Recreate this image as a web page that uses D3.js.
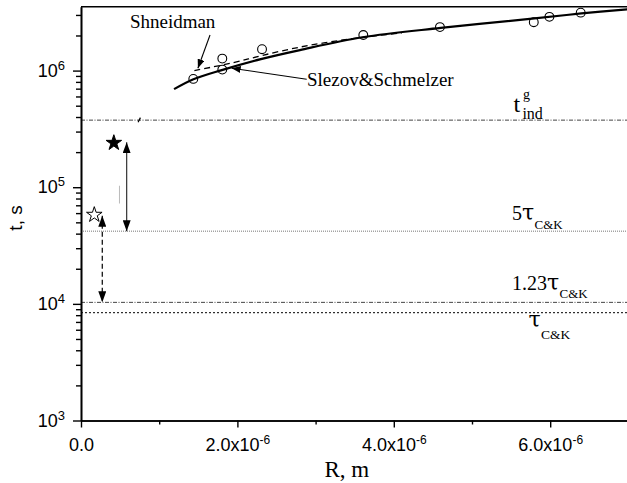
<!DOCTYPE html>
<html>
<head>
<meta charset="utf-8">
<script src="https://cdn.jsdelivr.net/npm/d3@7"></script>
<style>
  body { margin: 0; background: #fff; }
  svg { display: block; }
</style>
</head>
<body>
<svg id="chart"></svg>
<script>
// chart values
var circleR = [1.436e-6, 1.807e-6, 1.807e-6, 2.315e-6, 3.61e-6, 4.59e-6, 5.79e-6, 5.99e-6, 6.39e-6];
var circleT = [8.49e5, 1.267e6, 1.02e6, 1.525e6, 2.02e6, 2.36e6, 2.60e6, 2.89e6, 3.14e6];

var slezovR = [1.19e-6, 1.43e-6, 1.80e-6, 2.30e-6, 2.80e-6, 3.60e-6, 4.60e-6, 5.80e-6, 6.40e-6, 7.00e-6];
var slezovT = [6.93e5, 8.39e5, 1.01e6, 1.255e6, 1.50e6, 1.93e6, 2.32e6, 2.80e6, 3.09e6, 3.36e6];

var shneidR = [1.45e-6, 1.95e-6, 2.32e-6, 2.80e-6, 3.30e-6, 3.80e-6, 4.10e-6];
var shneidT = [1.0e6, 1.17e6, 1.35e6, 1.59e6, 1.81e6, 2.0e6, 2.1e6];

var levelNames = ["tind", "5tau", "123tau", "tau"];
var levelT = [3.76e5, 4.2e4, 1.03e4, 8.4e3];

var starR = [0.42e-6, 0.17e-6];
var starT = [2.4e5, 5.8e4];

var bigArrowR = 0.584e-6, bigArrowT = [2.43e5, 4.2e4];
var smallArrowR = 0.272e-6, smallArrowT = [5.7e4, 1.03e4];

var xTicks = [0, 2e-6, 4e-6, 6e-6];
var xMinor = [1e-6, 3e-6, 5e-6, 7e-6];
var yTicks = [1e3, 1e4, 1e5, 1e6];

var width = 627, height = 483;
var plotLeft = 81, plotTop = 6.7, plotBottom = 420.5;

var svg = d3.select("#chart").attr("width", width).attr("height", height);

var x = d3.scaleLinear().domain([0, 7e-6]).range([plotLeft, plotLeft + 7 * 78.2]);
var y = d3.scaleLog().domain([1e3, 3.53e6]).range([plotBottom, plotTop]);

var serif = "'Liberation Serif', 'Times New Roman', serif";
var sans = "'Liberation Sans', Arial, sans-serif";

// arrow heads
var defs = svg.append("defs");
defs.append("marker")
  .attr("id", "head")
  .attr("markerUnits", "userSpaceOnUse")
  .attr("markerWidth", 11).attr("markerHeight", 8)
  .attr("refX", 11).attr("refY", 4)
  .attr("orient", "auto-start-reverse")
  .append("path").attr("d", "M0,0 L11,4 L0,8 Z").attr("fill", "#000");
defs.append("marker")
  .attr("id", "headSmall")
  .attr("markerUnits", "userSpaceOnUse")
  .attr("markerWidth", 9).attr("markerHeight", 7)
  .attr("refX", 9).attr("refY", 3.5)
  .attr("orient", "auto")
  .append("path").attr("d", "M0,0 L9,3.5 L0,7 Z").attr("fill", "#000");

// horizontal level lines
var levelDash = ["4,1.5,1,1.5", "1,1", "4,1.5,1,1.5", "2,2"];
var levelColor = ["#444", "#777", "#444", "#000"];
svg.selectAll(".level")
  .data(levelT)
  .enter().append("line")
  .attr("class", "level")
  .attr("x1", x(0)).attr("x2", width)
  .attr("y1", function (d) { return y(d); })
  .attr("y2", function (d) { return y(d); })
  .attr("stroke", function (d, i) { return levelColor[i]; })
  .attr("stroke-width", 1)
  .attr("stroke-dasharray", function (d, i) { return levelDash[i]; });

// axes
var xAxis = d3.axisBottom(x).tickValues(xTicks).tickSize(7).tickSizeOuter(0);
var xMinorAxis = d3.axisBottom(x).tickValues(xMinor).tickSize(4).tickSizeOuter(0).tickFormat("");
var yAxis = d3.axisLeft(y).tickValues(yTicks).tickSize(8).tickSizeOuter(0);
var yMinorVals = [];
yTicks.forEach(function (d) {
  for (var k = 2; k < 10; k++) { if (d * k <= 3.53e6) yMinorVals.push(d * k); }
});
var yMinorAxis = d3.axisLeft(y).tickValues(yMinorVals).tickSize(5).tickSizeOuter(0).tickFormat("");

var gx = svg.append("g").attr("transform", "translate(0," + plotBottom + ")").call(xAxis);
svg.append("g").attr("transform", "translate(0," + plotBottom + ")").call(xMinorAxis);
var gy = svg.append("g").attr("transform", "translate(" + plotLeft + ",0)").call(yAxis);
svg.append("g").attr("transform", "translate(" + plotLeft + ",0)").call(yMinorAxis);

svg.selectAll(".domain").attr("stroke", "#000").attr("stroke-width", 1.6);
svg.selectAll(".tick line").attr("stroke", "#000").attr("stroke-width", 1.4);

gx.selectAll(".tick text").each(function (d) {
  var t = d3.select(this).text("")
    .attr("font-family", sans).attr("font-size", 18).attr("fill", "#000")
    .attr("y", 0).attr("dy", 0).attr("transform", "translate(0,30.5)");
  if (d === 0) { t.text("0.0"); return; }
  t.append("tspan").text((d * 1e6).toFixed(1) + "x10");
  t.append("tspan").attr("font-size", 12).attr("dy", -7).text("-6");
});

gy.selectAll(".tick text").each(function (d) {
  var t = d3.select(this).text("")
    .attr("font-family", sans).attr("font-size", 18).attr("fill", "#000")
    .attr("x", -16).attr("dy", "0.32em");
  t.append("tspan").text("10");
  t.append("tspan").attr("font-size", 13).attr("dy", -7).text(Math.round(Math.log10(d)));
});

// top frame line
svg.append("line")
  .attr("x1", plotLeft).attr("x2", width)
  .attr("y1", y(3.53e6)).attr("y2", y(3.53e6))
  .attr("stroke", "#000").attr("stroke-width", 1.6);

// axis titles
svg.append("text")
  .attr("transform", "translate(22," + y(5.45e4) + ") rotate(-90)")
  .attr("text-anchor", "middle")
  .attr("font-family", sans).attr("font-size", 19)
  .text("t, s");
svg.append("text")
  .attr("x", x(3.4e-6)).attr("y", 477)
  .attr("text-anchor", "middle")
  .attr("font-family", serif).attr("font-size", 23)
  .text("R, m");

// curves
var line = d3.line()
  .x(function (d) { return x(d[0]); })
  .y(function (d) { return y(d[1]); })
  .curve(d3.curveCatmullRom);

svg.append("path")
  .datum(d3.zip(slezovR, slezovT))
  .attr("d", line)
  .attr("fill", "none").attr("stroke", "#000").attr("stroke-width", 2.2);

svg.append("path")
  .datum(d3.zip(shneidR, shneidT))
  .attr("d", line)
  .attr("fill", "none").attr("stroke", "#000").attr("stroke-width", 1.3)
  .attr("stroke-dasharray", "6,4");

// experimental circles
svg.selectAll(".pt")
  .data(d3.zip(circleR, circleT))
  .enter().append("circle")
  .attr("class", "pt")
  .attr("cx", function (d) { return x(d[0]); })
  .attr("cy", function (d) { return y(d[1]); })
  .attr("r", 4.4)
  .attr("fill", "none").attr("stroke", "#000").attr("stroke-width", 1.1);

// stars
var star = d3.symbol().type(d3.symbolStar).size(75);
svg.selectAll(".star")
  .data(d3.zip(starR, starT))
  .enter().append("path")
  .attr("class", "star")
  .attr("d", star)
  .attr("transform", function (d) { return "translate(" + x(d[0]) + "," + y(d[1]) + ")"; })
  .attr("fill", function (d, i) { return i === 0 ? "#000" : "#fff"; })
  .attr("stroke", "#000").attr("stroke-width", 1);

// double arrows
svg.append("line")
  .attr("x1", x(bigArrowR)).attr("x2", x(bigArrowR))
  .attr("y1", y(bigArrowT[0])).attr("y2", y(bigArrowT[1]))
  .attr("stroke", "#333").attr("stroke-width", 1.2)
  .attr("marker-start", "url(#head)").attr("marker-end", "url(#head)");
svg.append("line")
  .attr("x1", x(smallArrowR)).attr("x2", x(smallArrowR))
  .attr("y1", y(smallArrowT[0])).attr("y2", y(smallArrowT[1]))
  .attr("stroke", "#000").attr("stroke-width", 1.2)
  .attr("stroke-dasharray", "5,3")
  .attr("marker-start", "url(#head)").attr("marker-end", "url(#head)");

// little stray marks in the original
svg.append("line")
  .attr("x1", x(0.73e-6)).attr("x2", x(0.76e-6))
  .attr("y1", y(3.6e5)).attr("y2", y(3.95e5))
  .attr("stroke", "#000").attr("stroke-width", 1.2);
svg.append("line")
  .attr("x1", x(0.492e-6)).attr("x2", x(0.492e-6))
  .attr("y1", y(7.25e4)).attr("y2", y(1.03e5))
  .attr("stroke", "#bbb").attr("stroke-width", 1);

// annotation arrows
svg.append("line")
  .attr("x1", x(1.65e-6)).attr("y1", y(2.02e6))
  .attr("x2", x(1.495e-6)).attr("y2", y(1.048e6))
  .attr("stroke", "#000").attr("stroke-width", 1.1)
  .attr("marker-end", "url(#headSmall)");
svg.append("line")
  .attr("x1", x(2.886e-6)).attr("y1", y(8.44e5))
  .attr("x2", x(1.927e-6)).attr("y2", y(1.048e6))
  .attr("stroke", "#000").attr("stroke-width", 1.1)
  .attr("marker-end", "url(#headSmall)");

svg.append("text")
  .attr("x", x(0.625e-6)).attr("y", 28.3)
  .attr("font-family", serif).attr("font-size", 19)
  .text("Shneidman");
svg.append("text")
  .attr("x", x(2.89e-6)).attr("y", 86)
  .attr("font-family", serif).attr("font-size", 19)
  .text("Slezov&Schmelzer");

// level labels
var lx = x(5.51e-6);
var tind = svg.append("g").attr("font-family", serif);
tind.append("text").attr("x", lx + 1.5).attr("y", y(levelT[0]) - 8.6).attr("font-size", 24).text("t");
tind.append("text").attr("x", lx + 11).attr("y", y(levelT[0]) - 21).attr("font-size", 14).text("g");
tind.append("text").attr("x", lx + 10.5).attr("y", y(levelT[0]) - 1.6).attr("font-size", 16).text("ind");

function tauLabel(prefix, yy, tx, sdy, subSize) {
  var g = svg.append("text").attr("x", tx).attr("y", yy)
    .attr("font-family", serif).attr("font-size", 20);
  if (prefix) g.append("tspan").text(prefix);
  g.append("tspan").attr("font-family", "'DejaVu Serif', serif").attr("font-size", 22).text("\u03c4");
  g.append("tspan").attr("dx", 0.5).attr("dy", sdy).attr("font-size", subSize).text("C&K");
}
tauLabel("5", y(levelT[1]) - 10.7, lx, 8.3, 13);
tauLabel("1.23", y(levelT[2]) - 12.3, lx, 7.6, 13);
tauLabel("", y(levelT[3]) + 14.4, lx + 16.5, 11.6, 13.5);
</script>
</body>
</html>
